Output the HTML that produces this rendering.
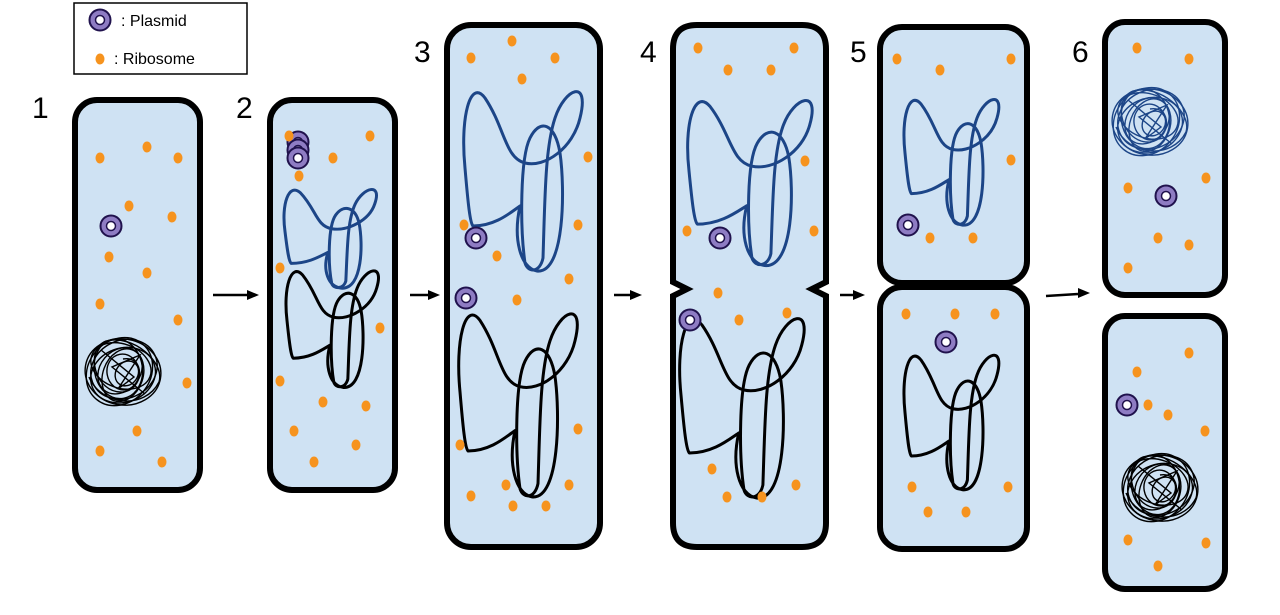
<!DOCTYPE html>
<html><head><meta charset="utf-8"><style>html,body{margin:0;padding:0;background:#fff}svg{display:block}text{font-family:"Liberation Sans",sans-serif}</style></head><body>
<svg width="1280" height="615" viewBox="0 0 1280 615" xmlns="http://www.w3.org/2000/svg">
<defs>
<path id="chr" d="M8,148 C30,148 45,135 55,128 C48,160 55,190 72,193 C100,196 100,110 95,75 C90,45 75,40 65,60 C55,80 55,150 60,185 C63,195 75,195 78,180 C80,120 80,70 90,40 C100,10 125,0 115,40 C108,70 80,90 60,85 C40,80 40,50 20,20 C5,0 -5,40 0,90 C3,125 5,145 8,148 Z" fill="none" stroke-width="3" stroke-linejoin="round" vector-effect="non-scaling-stroke"/>
<g id="ball" fill="none" stroke-width="1.4">
<ellipse cx="0" cy="0" rx="38" ry="33" transform="rotate(10)"/>
<ellipse cx="2" cy="-2" rx="34" ry="29" transform="rotate(-25)"/>
<ellipse cx="-3" cy="2" rx="31" ry="36" transform="rotate(40)"/>
<ellipse cx="3" cy="1" rx="27" ry="33" transform="rotate(70)"/>
<ellipse cx="-1" cy="-3" rx="25" ry="20" transform="rotate(-50)"/>
<ellipse cx="1" cy="3" rx="20" ry="27" transform="rotate(20)"/>
<ellipse cx="0" cy="0" rx="16" ry="18" transform="rotate(-10)"/>
<ellipse cx="4" cy="-1" rx="11" ry="13" transform="rotate(35)"/>
<ellipse cx="-4" cy="4" rx="30" ry="24" transform="rotate(80)"/>
<ellipse cx="5" cy="-4" rx="22" ry="31" transform="rotate(-70)"/>
<path d="M-34,5 C-22,34 22,38 36,10 C42,-10 10,-38 -17,-31 C-39,-22 -28,22 0,20 C22,17 22,-17 0,-13"/>
<path d="M-22,-22 L11,5 L-5,17 L17,-17 L-11,-5 L22,22"/>
</g>
<g id="pl"><circle r="10.5" fill="#8e7cc3" stroke="#20124d" stroke-width="2"/><circle r="4.5" fill="#fff" stroke="#20124d" stroke-width="1.5"/></g>
<ellipse id="rb" rx="4.5" ry="5.5" fill="#f6931e"/>
</defs>
<g fill="#cfe2f3" stroke="#000" stroke-width="6">
<rect x="75" y="100" width="125" height="390" rx="22"/>
<rect x="270" y="100" width="125" height="390" rx="22"/>
<rect x="447" y="25" width="153" height="522" rx="24"/>
<path d="M697,25 H802 Q826,25 826,49 V282 L812,289 L826,296 V523 Q826,547 802,547 H697 Q673,547 673,523 V296 L687,289 L673,282 V49 Q673,25 697,25 Z"/>
<rect x="880" y="27" width="147" height="256" rx="22"/>
<rect x="880" y="287" width="147" height="262" rx="22"/>
<rect x="1105" y="22" width="120" height="273" rx="20"/>
<rect x="1105" y="316" width="120" height="273" rx="20"/>
</g>
<rect x="74" y="3" width="173" height="71" fill="#fff" stroke="#000" stroke-width="1.5"/>
<use href="#pl" x="100" y="20"/><ellipse cx="100" cy="59" rx="4.5" ry="5.5" fill="#f6931e"/>
<text x="121" y="26" font-size="16">: Plasmid</text>
<text x="114" y="64" font-size="16">: Ribosome</text>
<g font-size="30"><text x="32" y="118">1</text><text x="236" y="118">2</text><text x="414" y="62">3</text><text x="640" y="62">4</text><text x="850" y="62">5</text><text x="1072" y="62">6</text></g>
<g stroke="#000" stroke-width="2.5"><line x1="213" y1="295" x2="248" y2="295"/><line x1="410" y1="295" x2="430" y2="295"/><line x1="614" y1="295" x2="632" y2="295"/><line x1="840" y1="295" x2="855" y2="295"/><line x1="1046" y1="296" x2="1078" y2="294"/></g>
<g fill="#000"><path d="M259,295 l-12,-5 v10z"/><path d="M440,295 l-12,-5 v10z"/><path d="M642,295 l-12,-5 v10z"/><path d="M865,295 l-12,-5 v10z"/><path d="M1090,293 l-12,-5 v10z"/></g>
<use href="#chr" stroke="#1c4587" transform="translate(285,182) scale(0.78,0.55)"/>
<use href="#chr" stroke="#000" transform="translate(287,262) scale(0.78,0.65)"/>
<use href="#chr" stroke="#1c4587" transform="translate(465,78)"/>
<use href="#chr" stroke="#000" transform="translate(460,300) scale(1,1.02)"/>
<use href="#chr" stroke="#1c4587" transform="translate(689,88) scale(1.05,0.92)"/>
<use href="#chr" stroke="#000" transform="translate(681,305) scale(1.05,1.0)"/>
<use href="#chr" stroke="#1c4587" transform="translate(905,90) scale(0.8,0.7)"/>
<use href="#chr" stroke="#000" transform="translate(905,345) scale(0.8,0.75)"/>
<use href="#ball" stroke="#000" transform="translate(123,372)"/>
<use href="#ball" stroke="#1c4587" transform="translate(1150,122)"/>
<use href="#ball" stroke="#000" transform="translate(1160,488)"/>
<use href="#pl" x="111" y="226"/>
<use href="#pl" x="298" y="142"/><use href="#pl" x="298" y="150"/><use href="#pl" x="298" y="158"/>
<use href="#pl" x="476" y="238"/><use href="#pl" x="466" y="298"/>
<use href="#pl" x="720" y="238"/><use href="#pl" x="690" y="320"/>
<use href="#pl" x="908" y="225"/><use href="#pl" x="946" y="342"/>
<use href="#pl" x="1166" y="196"/><use href="#pl" x="1127" y="405"/>
<g>
<use href="#rb" x="100" y="158"/><use href="#rb" x="147" y="147"/><use href="#rb" x="178" y="158"/><use href="#rb" x="129" y="206"/><use href="#rb" x="172" y="217"/><use href="#rb" x="109" y="257"/><use href="#rb" x="147" y="273"/><use href="#rb" x="100" y="304"/><use href="#rb" x="178" y="320"/><use href="#rb" x="187" y="383"/><use href="#rb" x="137" y="431"/><use href="#rb" x="100" y="451"/><use href="#rb" x="162" y="462"/>
<use href="#rb" x="289" y="136"/><use href="#rb" x="370" y="136"/><use href="#rb" x="333" y="158"/><use href="#rb" x="299" y="176"/><use href="#rb" x="280" y="268"/><use href="#rb" x="380" y="328"/><use href="#rb" x="280" y="381"/><use href="#rb" x="323" y="402"/><use href="#rb" x="366" y="406"/><use href="#rb" x="294" y="431"/><use href="#rb" x="356" y="445"/><use href="#rb" x="314" y="462"/>
<use href="#rb" x="512" y="41"/><use href="#rb" x="471" y="58"/><use href="#rb" x="555" y="58"/><use href="#rb" x="522" y="79"/><use href="#rb" x="588" y="157"/><use href="#rb" x="464" y="225"/><use href="#rb" x="578" y="225"/><use href="#rb" x="497" y="256"/><use href="#rb" x="569" y="279"/><use href="#rb" x="517" y="300"/><use href="#rb" x="578" y="429"/><use href="#rb" x="460" y="445"/><use href="#rb" x="506" y="485"/><use href="#rb" x="569" y="485"/><use href="#rb" x="471" y="496"/><use href="#rb" x="513" y="506"/><use href="#rb" x="546" y="506"/>
<use href="#rb" x="698" y="48"/><use href="#rb" x="794" y="48"/><use href="#rb" x="728" y="70"/><use href="#rb" x="771" y="70"/><use href="#rb" x="805" y="161"/><use href="#rb" x="687" y="231"/><use href="#rb" x="814" y="231"/><use href="#rb" x="718" y="293"/><use href="#rb" x="739" y="320"/><use href="#rb" x="787" y="313"/><use href="#rb" x="712" y="469"/><use href="#rb" x="796" y="485"/><use href="#rb" x="727" y="497"/><use href="#rb" x="762" y="497"/>
<use href="#rb" x="897" y="59"/><use href="#rb" x="940" y="70"/><use href="#rb" x="1011" y="59"/><use href="#rb" x="1011" y="160"/><use href="#rb" x="930" y="238"/><use href="#rb" x="973" y="238"/><use href="#rb" x="906" y="314"/><use href="#rb" x="955" y="314"/><use href="#rb" x="995" y="314"/><use href="#rb" x="912" y="487"/><use href="#rb" x="1008" y="487"/><use href="#rb" x="928" y="512"/><use href="#rb" x="966" y="512"/>
<use href="#rb" x="1137" y="48"/><use href="#rb" x="1189" y="59"/><use href="#rb" x="1206" y="178"/><use href="#rb" x="1128" y="188"/><use href="#rb" x="1158" y="238"/><use href="#rb" x="1189" y="245"/><use href="#rb" x="1128" y="268"/>
<use href="#rb" x="1137" y="372"/><use href="#rb" x="1189" y="353"/><use href="#rb" x="1148" y="405"/><use href="#rb" x="1168" y="415"/><use href="#rb" x="1205" y="431"/><use href="#rb" x="1128" y="540"/><use href="#rb" x="1206" y="543"/><use href="#rb" x="1158" y="566"/>
</g>
</svg>
</body></html>
